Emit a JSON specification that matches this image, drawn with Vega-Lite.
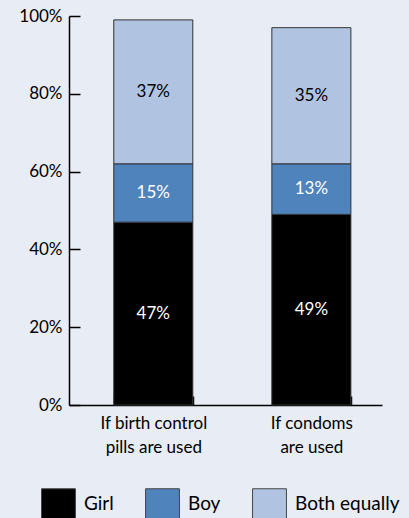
{
  "$schema": "https://vega.github.io/schema/vega-lite/v6.json",
  "autosize": {"type": "none"},
  "width": 313,
  "height": 389,
  "padding": {"left": 69, "top": 16, "right": 27, "bottom": 113},
  "background": "#e8ecf5",
  "config": {
    "view": {"stroke": null},
    "font": "Lato",
    "axis": {"labelFont": "Lato", "labelColor": "black", "domainColor": "black", "tickColor": "black", "grid": false, "title": null},
    "legend": {"labelFont": "Lato"}
  },
  "data": {
    "values": [
      {"scenario": "If birth control|pills are used", "response": "Girl", "k": 1, "pct": 0.47},
      {"scenario": "If birth control|pills are used", "response": "Boy", "k": 2, "pct": 0.15},
      {"scenario": "If birth control|pills are used", "response": "Both equally", "k": 3, "pct": 0.37},
      {"scenario": "If condoms|are used", "response": "Girl", "k": 1, "pct": 0.49},
      {"scenario": "If condoms|are used", "response": "Boy", "k": 2, "pct": 0.13},
      {"scenario": "If condoms|are used", "response": "Both equally", "k": 3, "pct": 0.35}
    ]
  },
  "encoding": {
    "x": {
      "field": "scenario",
      "type": "nominal",
      "sort": null,
      "scale": {"paddingInner": 0.5, "paddingOuter": 0.24, "align": 0.59},
      "axis": {
        "labelExpr": "isValid(datum.value) ? split(datum.value, '|') : ''",
        "labelAngle": 0,
        "labelFontSize": 17,
        "labelLineHeight": 24,
        "labelPadding": 19,
        "tickBand": "extent",
        "tickSize": -9,
        "tickWidth": 1.5,
        "domainWidth": 1.5
      }
    }
  },
  "layer": [
    {
      "mark": {"type": "bar", "stroke": "#333", "strokeWidth": 1},
      "encoding": {
        "y": {
          "field": "pct",
          "type": "quantitative",
          "stack": "zero",
          "scale": {"domain": [0, 1], "nice": false},
          "axis": {
            "values": [0, 0.2, 0.4, 0.6, 0.8, 1],
            "format": ".0%",
            "labelFontSize": 17,
            "labelPadding": 18,
            "tickSize": -11,
            "tickWidth": 1.5,
            "domainWidth": 1.5
          }
        },
        "order": {"field": "k", "type": "quantitative"},
        "color": {
          "field": "response",
          "type": "nominal",
          "scale": {"domain": ["Girl", "Boy", "Both equally"], "range": ["#000000", "#4f83bb", "#b0c4e2"]},
          "legend": {
            "title": null,
            "orient": "none",
            "direction": "horizontal",
            "legendX": -26,
            "legendY": 472,
            "symbolType": "M-1.13,-1H1.13V1H-1.13Z",
            "symbolSize": 900,
            "symbolStrokeColor": "#444",
            "symbolStrokeWidth": 1,
            "symbolOpacity": 1,
            "labelFontSize": 19,
            "labelColor": "black",
            "labelOffset": 10,
            "columnPadding": 29
          }
        }
      }
    },
    {
      "mark": {"type": "text", "fontSize": 17, "font": "Lato"},
      "encoding": {
        "y": {"field": "pct", "type": "quantitative", "stack": "zero", "bandPosition": 0.5},
        "order": {"field": "k", "type": "quantitative"},
        "detail": {"field": "response"},
        "text": {"field": "pct", "type": "quantitative", "format": ".0%"},
        "color": {"condition": {"test": "datum.response === 'Both equally'", "value": "black"}, "value": "white"}
      }
    }
  ]
}
